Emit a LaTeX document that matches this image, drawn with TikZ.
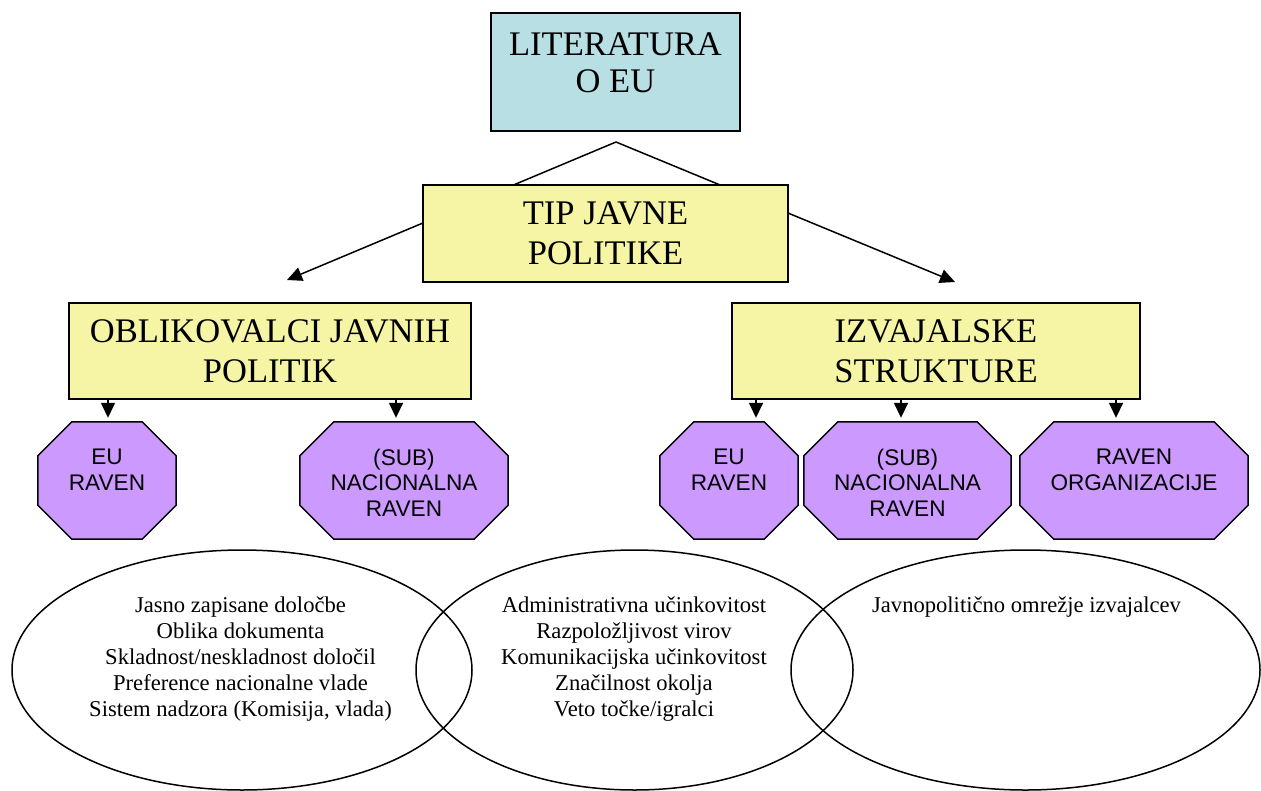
\documentclass[tikz,border=0pt]{standalone}
\usepackage{fontspec}
\setmainfont{Liberation Serif}
\newfontfamily\arialfont{Liberation Sans}
\usetikzlibrary{arrows.meta,backgrounds}
\definecolor{litblue}{RGB}{184,224,228}
\definecolor{boxyellow}{RGB}{245,245,165}
\definecolor{octpurple}{RGB}{204,153,255}

\begin{document}
\begin{tikzpicture}[x=1pt,y=-1pt]
\tikzstyle{box} = [draw,line width=1.5pt,align=center,inner sep=0pt,font=\fontsize{34.5}{40}\selectfont]
\tikzstyle{oct} = [inner sep=0pt,minimum height=117pt]
\tikzstyle{octline} = [draw,line width=1.5pt,fill=octpurple]
\tikzstyle{octtxt} = [anchor=north,align=center,inner sep=0pt,font=\arialfont\fontsize{22.6}{25.5}\selectfont]
\tikzstyle{arr} = [line width=1.5pt,-{Triangle[length=15pt,width=14pt]}]
\tikzstyle{ell} = [line width=1.5pt]
\tikzstyle{list} = [align=center,anchor=north,inner sep=0pt,font=\fontsize{22.6}{26}\selectfont]

\useasboundingbox (0,0) rectangle (1261,790);

% top of the tree
\node[box,fill=litblue,minimum width=249pt,minimum height=118pt,text depth=18pt,
  font=\fontsize{34.5}{37}\selectfont] (lit) at (615.5,72) {LITERATURA\\O EU};
\coordinate (apex) at (616,142);
\coordinate (ltip) at (287,280);
\coordinate (rtip) at (955,282);
\draw[arr] (apex) -- (ltip);
\draw[arr] (apex) -- (rtip);
\node[box,fill=boxyellow,minimum width=365pt,minimum height=97pt] (tip) at (605.5,233.5) {TIP JAVNE\\POLITIKE};

% two branches
\node[box,fill=boxyellow,minimum width=402pt,minimum height=96pt] (obl) at (270,351) {OBLIKOVALCI JAVNIH\\POLITIK};
\node[box,fill=boxyellow,minimum width=408pt,minimum height=96pt] (izv) at (936,351) {IZVAJALSKE\\STRUKTURE};

% levels
\node[oct,minimum width=138pt] (eul) at (107,480.5) {};
\node[oct,minimum width=208pt] (subl) at (404,480.5) {};
\node[oct,minimum width=138pt] (eur) at (729,480.5) {};
\node[oct,minimum width=207pt] (subr) at (907.5,480.5) {};
\node[oct,minimum width=228pt] (org) at (1134,480.5) {};

\foreach \n in {eul,subl,eur,subr,org}
  \path[octline] ([xshift=34pt]\n.north west) -- ([xshift=-34pt]\n.north east) -- ([yshift=-34pt]\n.north east)
    -- ([yshift=34pt]\n.south east) -- ([xshift=-34pt]\n.south east) -- ([xshift=34pt]\n.south west)
    -- ([yshift=34pt]\n.south west) -- ([yshift=-34pt]\n.north west) -- cycle;

\node[octtxt] (eultxt) at ([yshift=-27pt]eul.north) {EU\\RAVEN};
\node[octtxt] (subltxt) at ([yshift=-27pt]subl.north) {(SUB)\\NACIONALNA\\RAVEN};
\node[octtxt] (eurtxt) at ([yshift=-27pt]eur.north) {EU\\RAVEN};
\node[octtxt] (subrtxt) at ([yshift=-27pt]subr.north) {(SUB)\\NACIONALNA\\RAVEN};
\node[octtxt] (orgtxt) at ([yshift=-27pt]org.north) {RAVEN\\ORGANIZACIJE};

\draw[arr,shorten >=4pt] ([xshift=1pt]eul.north |- obl.south) -- ([xshift=1pt]eul.north);
\draw[arr,shorten >=4pt] ([xshift=-8pt]subl.north |- obl.south) -- ([xshift=-8pt]subl.north);
\draw[arr,shorten >=4pt] ([xshift=27pt]eur.north |- izv.south) -- ([xshift=27pt]eur.north);
\draw[arr,shorten >=4pt] ([xshift=-6.5pt]subr.north |- izv.south) -- ([xshift=-6.5pt]subr.north);
\draw[arr,shorten >=4pt] ([xshift=-18pt]org.north |- izv.south) -- ([xshift=-18pt]org.north);

% factors
\draw[ell] (242,670) ellipse [x radius=230,y radius=120];
\draw[ell] (634.5,670) ellipse [x radius=218.5,y radius=120];
\draw[ell] (1025.5,670) ellipse [x radius=234.5,y radius=120];
\node[list] (f1) at (240.5,597) {Jasno zapisane določbe\\Oblika dokumenta\\Skladnost/neskladnost določil\\Preference nacionalne vlade\\Sistem nadzora (Komisija, vlada)};
\node[list] (f2) at (634,597) {Administrativna učinkovitost\\Razpoložljivost virov\\Komunikacijska učinkovitost\\Značilnost okolja\\Veto točke/igralci};
\node[list] (f3) at (1026.5,597) {Javnopolitično omrežje izvajalcev};
\end{tikzpicture}
\end{document}
